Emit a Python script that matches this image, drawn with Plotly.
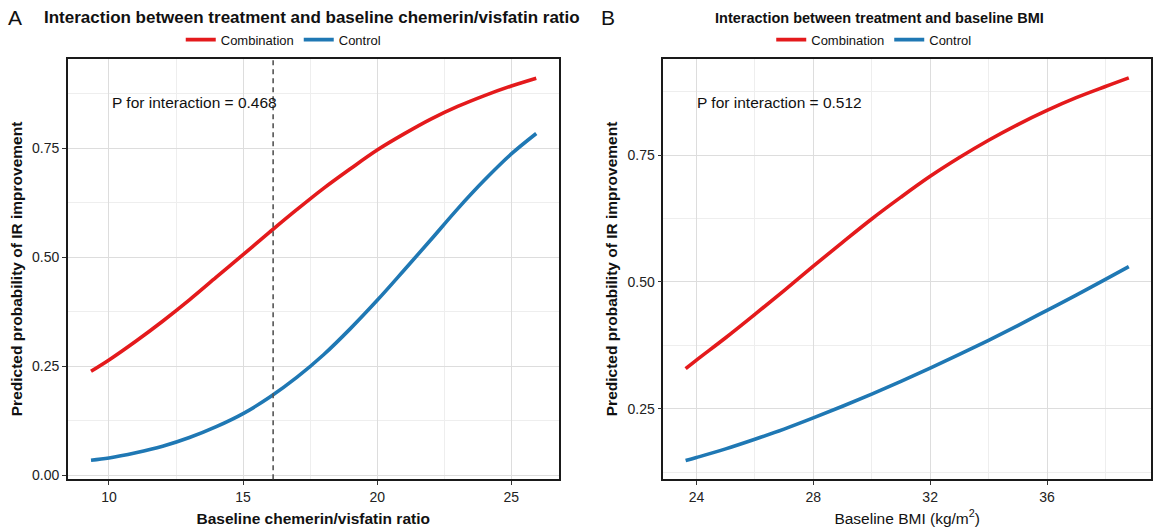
import plotly.graph_objects as go

# ---------------- data ----------------
# Panel A: baseline chemerin/visfatin ratio
ratio_x = [9.33, 10, 11, 12, 13, 14, 15, 16, 17, 18, 19, 20, 21, 22, 23, 24, 25, 25.93]
ratio_combination = [0.238, 0.264, 0.307, 0.353, 0.402, 0.454, 0.506, 0.558, 0.609, 0.658, 0.703, 0.746, 0.783, 0.817, 0.846, 0.871, 0.893, 0.911]
ratio_control = [0.034, 0.039, 0.051, 0.066, 0.086, 0.111, 0.141, 0.179, 0.224, 0.276, 0.336, 0.401, 0.470, 0.540, 0.611, 0.677, 0.737, 0.784]
ratio_cutoff = 16.12
ratio_p_text = "P for interaction = 0.468"
ratio_ticks = [10, 15, 20, 25]
ratio_minor = [12.5, 17.5, 22.5]

# Panel B: baseline BMI
bmi_x = [23.63, 24, 25, 26, 27, 28, 29, 30, 31, 32, 33, 34, 35, 36, 37, 38, 38.8]
bmi_combination = [0.329, 0.346, 0.390, 0.436, 0.483, 0.531, 0.578, 0.624, 0.667, 0.708, 0.745, 0.779, 0.810, 0.838, 0.863, 0.885, 0.902]
bmi_control = [0.148, 0.154, 0.171, 0.190, 0.210, 0.232, 0.255, 0.279, 0.304, 0.330, 0.357, 0.385, 0.414, 0.444, 0.474, 0.505, 0.530]
bmi_p_text = "P for interaction = 0.512"
bmi_ticks = [24, 28, 32, 36]
bmi_minor = [26, 30, 34, 38]

prob_ticks = [0.00, 0.25, 0.50, 0.75]
prob_minor = [0.125, 0.375, 0.625, 0.875]

groups = ["Combination", "Control"]
colors = {"Combination": "#E41A1C", "Control": "#1F78B4"}

# ---------------- layout helpers ----------------
W, H = 1153, 531
FONT = "Arial, Liberation Sans, sans-serif"


def fx(p):
    return p / W


def fy(p):
    return 1 - p / H


fig = go.Figure()

series = [
    ("x", "y", "legend", ratio_x, {"Combination": ratio_combination, "Control": ratio_control}),
    ("x2", "y2", "legend2", bmi_x, {"Combination": bmi_combination, "Control": bmi_control}),
]
for xa, ya, lg, xs, ys in series:
    for g in groups:
        fig.add_trace(go.Scatter(
            x=xs, y=ys[g], mode="lines", name=g,
            line=dict(color=colors[g], width=3.6, shape="spline", smoothing=1.0),
            xaxis=xa, yaxis=ya, legend=lg,
        ))

grid_major = "#DDDDDD"
grid_minor = "#EEEEEE"


def xaxis_cfg(domain, rng, ticks, minor, title, bold, anchor):
    return dict(
        domain=domain, range=rng, anchor=anchor,
        tickmode="array", tickvals=ticks, ticktext=[str(t) for t in ticks],
        ticks="outside", ticklen=4, tickwidth=1.2, tickcolor="#333333",
        tickfont=dict(family=FONT, size=14, color="#222222"),
        showgrid=True, gridcolor=grid_major, gridwidth=1.2,
        minor=dict(tickvals=minor, showgrid=True, gridcolor=grid_minor, gridwidth=0.8, ticks=""),
        showline=True, linecolor="#1a1a1a", linewidth=1.6, mirror=True,
        zeroline=False,
        title=dict(text=title, standoff=9,
                   font=dict(family=FONT, size=15.5, color="#111111",
                             weight="bold" if bold else "normal")),
    )


def yaxis_cfg(domain, rng, anchor):
    return dict(
        domain=domain, range=rng, anchor=anchor,
        tickmode="array", tickvals=prob_ticks, ticktext=[f"{t:.2f}" for t in prob_ticks],
        ticks="outside", ticklen=4, tickwidth=1.2, tickcolor="#333333",
        tickfont=dict(family=FONT, size=14, color="#222222"),
        showgrid=True, gridcolor=grid_major, gridwidth=1.2,
        minor=dict(tickvals=prob_minor, showgrid=True, gridcolor=grid_minor, gridwidth=0.8, ticks=""),
        showline=True, linecolor="#1a1a1a", linewidth=1.6, mirror=True,
        zeroline=False,
        title=dict(text="Predicted probability of IR improvement", standoff=6,
                   font=dict(family=FONT, size=15.5, color="#111111", weight="bold")),
    )


ydom = [fy(483), fy(59)]
fig.update_layout(
    width=W, height=H,
    margin=dict(l=0, r=0, t=0, b=0),
    paper_bgcolor="white", plot_bgcolor="white",
    font=dict(family=FONT, color="#111111"),
    xaxis=xaxis_cfg([fx(68), fx(559)], [8.47, 26.76], ratio_ticks, ratio_minor,
                    "Baseline chemerin/visfatin ratio", True, "y"),
    yaxis=yaxis_cfg(ydom, [-0.010, 0.956], "x"),
    xaxis2=xaxis_cfg([fx(664), fx(1152)], [22.87, 39.56], bmi_ticks, bmi_minor,
                     "Baseline BMI (kg/m<sup>2</sup>)", False, "y2"),
    yaxis2=yaxis_cfg(ydom, [0.111, 0.940], "x2"),
    legend=dict(orientation="h", x=fx(284), xanchor="center", y=fy(40), yanchor="middle",
                font=dict(family=FONT, size=13, color="#111111"), bgcolor="rgba(0,0,0,0)",
                itemwidth=30, traceorder="normal"),
    legend2=dict(orientation="h", x=fx(875), xanchor="center", y=fy(40), yanchor="middle",
                 font=dict(family=FONT, size=13, color="#111111"), bgcolor="rgba(0,0,0,0)",
                 itemwidth=30, traceorder="normal"),
    showlegend=True,
)

# dashed reference line (panel A)
fig.add_shape(type="line", xref="x", yref="y domain", x0=ratio_cutoff, x1=ratio_cutoff, y0=0, y1=1,
              line=dict(color="#555555", width=1.6, dash="5px,4px"), layer="above")

# P-value annotations
fig.add_annotation(x=10.05, y=0.855, xref="x", yref="y", text=ratio_p_text, showarrow=False,
                   xanchor="left", yanchor="middle", font=dict(family=FONT, size=15.5, color="#111111"))
fig.add_annotation(x=23.95, y=0.8535, xref="x2", yref="y2", text=bmi_p_text, showarrow=False,
                   xanchor="left", yanchor="middle", font=dict(family=FONT, size=15.5, color="#111111"))

# Titles
fig.add_annotation(x=fx(312), y=fy(18), xref="paper", yref="paper", showarrow=False,
                   text="Interaction between treatment and baseline chemerin/visfatin ratio",
                   xanchor="center", yanchor="middle",
                   font=dict(family=FONT, size=17, color="#111111", weight="bold"))
fig.add_annotation(x=fx(880), y=fy(18), xref="paper", yref="paper", showarrow=False,
                   text="Interaction between treatment and baseline BMI",
                   xanchor="center", yanchor="middle",
                   font=dict(family=FONT, size=14.5, color="#111111", weight="bold"))

# Panel letters
fig.add_annotation(x=fx(6), y=fy(18), xref="paper", yref="paper", showarrow=False, text="A",
                   xanchor="left", yanchor="middle", font=dict(family=FONT, size=21, color="#111111"))
fig.add_annotation(x=fx(600), y=fy(18), xref="paper", yref="paper", showarrow=False, text="B",
                   xanchor="left", yanchor="middle", font=dict(family=FONT, size=21, color="#111111"))

fig.write_html("out.html",
               config={"displayModeBar": False},
               post_script="document.body.style.margin='0px';document.body.style.overflow='hidden';")
